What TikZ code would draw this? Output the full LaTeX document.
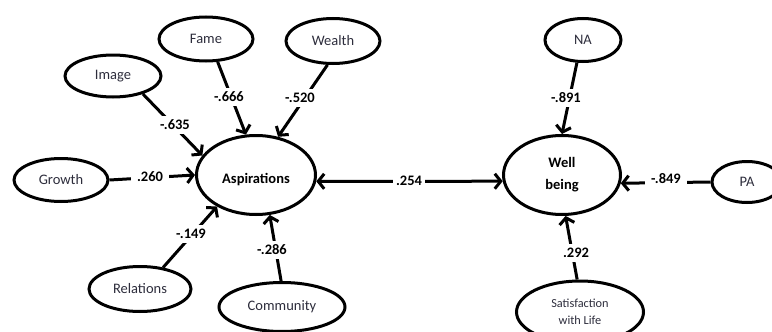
\documentclass[tikz,border=0pt]{standalone}
\usepackage{fontspec}
\setmainfont{Carlito}
\usetikzlibrary{arrows.meta,shapes.geometric}
\definecolor{vartext}{RGB}{45,45,60}
\begin{document}
\begin{tikzpicture}[x=1pt,y=-1pt,
  var/.style={draw,ellipse,line width=3pt,inner sep=0pt,align=center,
    font=\fontsize{14.5}{17}\selectfont,text=vartext},
  bigvar/.style={var,font=\bfseries\fontsize{14.5}{22}\selectfont,text=black},
  conn/.style={line width=3pt,-{Straight Barb[length=6pt,width=15pt]}},
  both/.style={line width=3pt,{Straight Barb[length=6pt,width=15pt]}-{Straight Barb[length=6pt,width=15pt]}},
  coef/.style={fill=white,inner xsep=6pt,inner ysep=4pt,font=\bfseries\fontsize{14.5}{17}\selectfont}
]
\useasboundingbox (0,0) rectangle (772,332);
\node[bigvar,minimum width=119pt,minimum height=79pt] (asp) at (256,175) {\raisebox{-8pt}[0pt][0pt]{Aspirations}};
\node[bigvar,minimum width=117pt,minimum height=79pt] (wb) at (562,175) {Well\\being};
\node[var,minimum width=94pt,minimum height=44pt] (fame) at (206,39) {Fame};
\node[var,minimum width=94pt,minimum height=45pt] (wealth) at (333,41) {Wealth};
\node[var,minimum width=96pt,minimum height=42pt] (image) at (113,76) {Image};
\node[var,minimum width=94pt,minimum height=43pt] (growth) at (61,180) {Growth};
\node[var,minimum width=102pt,minimum height=45pt] (relations) at (140,289) {Relations};
\node[var,minimum width=126pt,minimum height=49pt] (community) at (282,307) {Community};
\node[var,minimum width=76pt,minimum height=43pt] (na) at (583,40) {NA};
\node[var,minimum width=70pt,minimum height=41pt] (pa) at (747,182) {PA};
\node[var,minimum width=127pt,minimum height=62pt,font=\fontsize{12.3}{17}\selectfont] (swl) at (580,312) {Satisfaction\\with Life};

\draw[conn] (fame.-63) -- (asp.104);
\draw[conn] (wealth.-103) -- (asp.60);
\draw[conn] (image.-31) -- (asp.160);
\draw[conn] (growth.east) -- (asp.west);
\draw[conn] (relations.43) -- (asp.-141);
\draw[conn] (community.92) -- (asp.-71);
\draw[both] (asp.-6) -- (wb.186);
\draw[conn] (na.-105) -- (wb.90);
\draw[conn] (pa.west) -- (wb.-8);
\draw[conn] (swl.95) -- (wb.-85);

\node[coef] (l1) at (229,97) {-.666};
\node[coef] (l2) at (300,98) {-.520};
\node[coef] (l3) at (175,125) {-.635};
\node[coef] (l4) at (150,177) {.260};
\node[coef] (l5) at (191,234) {-.149};
\node[coef] (l6) at (272,250) {-.286};
\node[coef,inner xsep=3pt] (l7) at (409,181) {.254};
\node[coef] (l8) at (566,98) {-.891};
\node[coef] (l9) at (666,179) {-.849};
\node[coef] (l10) at (576,253) {.292};
\end{tikzpicture}
\end{document}
